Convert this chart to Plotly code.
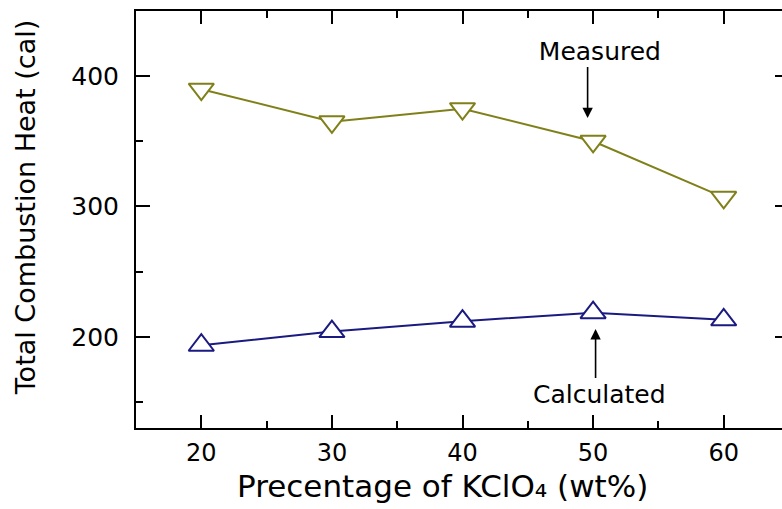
import plotly.graph_objects as go

kclo4_pct = [20, 30, 40, 50, 60]
measured_heat = [390, 365, 375, 350, 307]
calculated_heat = [193.5, 204, 212, 218.5, 213]
x_ticks = [20, 30, 40, 50, 60]
y_ticks = [200, 300, 400]

OLIVE = "#80801a"
NAVY = "#1a1a80"
FONT = "DejaVu Sans"
NBSP = "\u00a0"

fig = go.Figure()
fig.add_trace(go.Scatter(
    x=kclo4_pct, y=measured_heat, mode="lines+markers", name="Measured",
    line=dict(color=OLIVE, width=2),
    marker=dict(symbol="triangle-down", size=22, color="white",
                line=dict(color=OLIVE, width=2)),
))
fig.add_trace(go.Scatter(
    x=kclo4_pct, y=calculated_heat, mode="lines+markers", name="Calculated",
    line=dict(color=NAVY, width=2),
    marker=dict(symbol="triangle-up", size=22, color="white",
                line=dict(color=NAVY, width=2)),
))

# The plot frame's right edge deliberately runs just past the visible window,
# as in the reference (page margin removed and overflow clipped below).
fig.update_layout(
    width=792, height=509,
    margin=dict(l=136, r=1, t=11, b=81),
    paper_bgcolor="white", plot_bgcolor="white",
    showlegend=False,
    font=dict(family=FONT, color="black"),
    xaxis=dict(
        range=[15, 65], tickvals=x_ticks, ticks="inside", ticklen=13, tickwidth=2,
        tickcolor="black", showline=True, linecolor="black", linewidth=2,
        mirror="ticks", showgrid=False, zeroline=False,
        tickfont=dict(size=24, family=FONT), ticklabelstandoff=2,
        minor=dict(dtick=5, tick0=15, ticks="inside", ticklen=7, tickwidth=2,
                   tickcolor="black", showgrid=False),
    ),
    yaxis=dict(
        range=[130, 450], tickvals=y_ticks, ticks="inside", ticklen=14, tickwidth=2,
        tickcolor="black", showline=True, linecolor="black", linewidth=2,
        mirror="ticks", showgrid=False, zeroline=False,
        tickfont=dict(size=25, family=FONT), ticklabelstandoff=10,
        minor=dict(dtick=50, tick0=150, ticks="inside", ticklen=7, tickwidth=2,
                   tickcolor="black", showgrid=False),
    ),
)

# axis titles
fig.add_annotation(
    text="Total Combustion Heat (cal)", textangle=-90,
    xref="paper", yref="paper", x=-0.168, y=0.530,
    xanchor="center", yanchor="middle", showarrow=False,
    font=dict(size=27, family=FONT, color="black"),
)
fig.add_annotation(
    text="Precentage of KClO\u2084 (wt%)",
    xref="paper", yref="paper", x=0.4687, y=-0.0911,
    xanchor="center", yanchor="top", showarrow=False,
    font=dict(size=31, family=FONT, color="black"),
)

# labels with arrows (leading no-break spaces nudge the text right of the arrow)
fig.add_annotation(
    text=NBSP * 3 + "Measured", xref="x", yref="y", x=49.58, y=367.8,
    ax=0, ay=-67, showarrow=True, arrowhead=2, arrowsize=1.3, arrowwidth=1.6,
    arrowcolor="black", font=dict(size=25, family=FONT, color="black"),
)
fig.add_annotation(
    text=NBSP + "Calculated", xref="x", yref="y", x=50.19, y=205.9,
    ax=0, ay=65, showarrow=True, arrowhead=2, arrowsize=1.3, arrowwidth=1.6,
    arrowcolor="black", font=dict(size=25, family=FONT, color="black"),
)

fig.write_html(
    "out.html",
    config={"displayModeBar": False},
    post_script="document.body.style.margin='0';document.body.style.overflow='hidden';",
)
